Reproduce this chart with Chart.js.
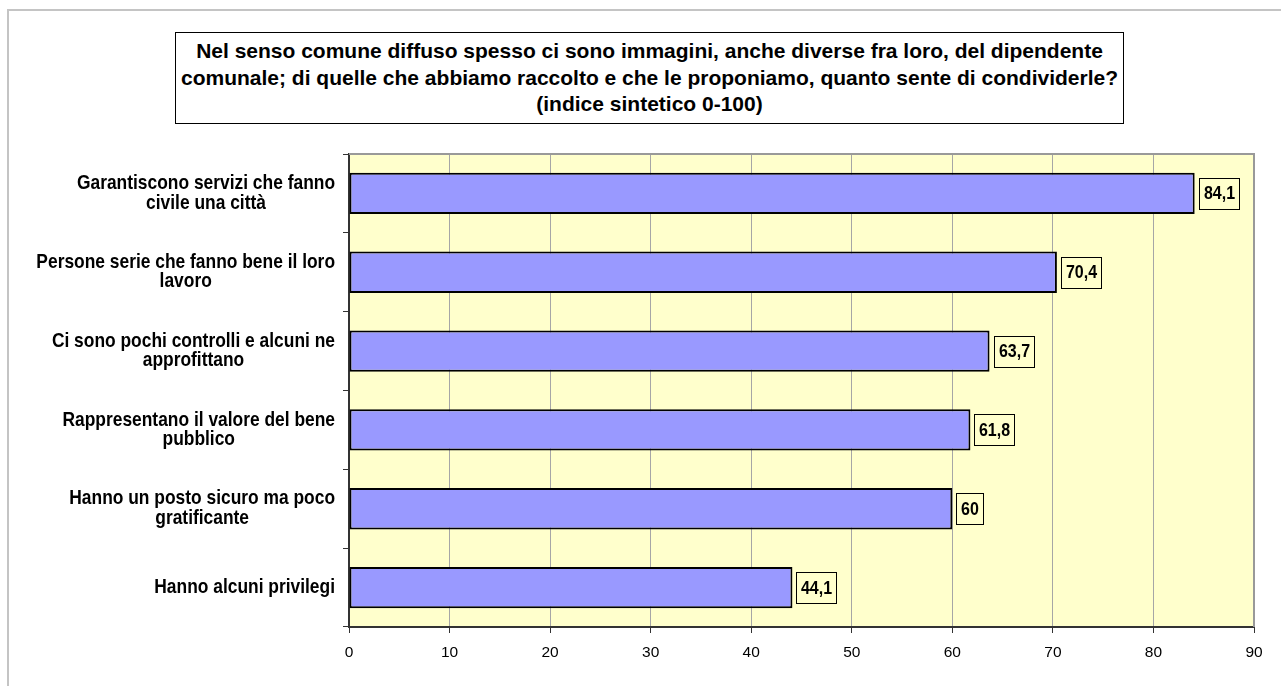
<!DOCTYPE html>
<html>
<head>
<meta charset="utf-8">
<script src="https://cdn.jsdelivr.net/npm/chart.js@4.4.1/dist/chart.umd.min.js"></script>
<style>
  body { margin: 0; background: #fff; }
  #frame { position: absolute; left: 7px; top: 9px; width: 1300px; height: 700px; border: 2px solid #c4c4c4; }
  #title {
    position: absolute; left: 175px; top: 32px; width: 947px; height: 85px;
    border: 1px solid #000; background: #fff;
    font: bold 21px "Liberation Sans", Arial, sans-serif; line-height: 26.5px;
    text-align: center; padding-top: 5px; color: #000; white-space: nowrap;
  }
  #wrap { position: absolute; left: 0; top: 0; }
</style>
</head>
<body>
<div id="frame"></div>
<div id="wrap"><canvas id="barChart" width="1281" height="686"></canvas></div>
<div id="title">Nel senso comune diffuso spesso ci sono immagini, anche diverse fra loro, del dipendente<br>comunale; di quelle che abbiamo raccolto e che le proponiamo, quanto sente di condividerle?<br>(indice sintetico 0-100)</div>
<script>
const categories = [
  ["Garantiscono servizi che fanno", "civile una città"],
  ["Persone serie che fanno bene il loro", "lavoro"],
  ["Ci sono pochi controlli e alcuni ne", "approfittano"],
  ["Rappresentano il valore del bene", "pubblico"],
  ["Hanno un posto sicuro ma poco", "gratificante"],
  ["Hanno alcuni privilegi"]
];
const values = [84.1, 70.4, 63.7, 61.8, 60, 44.1];
const xMin = 0, xMax = 90, xStep = 10;

const fmt = v => String(v).replace(".", ",");

// yellow plot area + grey top/right border
const plotFrame = {
  id: "plotFrame",
  beforeDraw(chart) {
    const { ctx, chartArea: a } = chart;
    ctx.save();
    ctx.fillStyle = "#FFFFCC";
    ctx.fillRect(a.left, a.top, a.right - a.left, a.bottom - a.top);
    ctx.restore();
  },
  afterDatasetsDraw(chart) {
    const { ctx, chartArea: a } = chart;
    ctx.save();
    ctx.strokeStyle = "#999";
    ctx.lineWidth = 2;
    ctx.beginPath();
    ctx.moveTo(a.left, a.top);
    ctx.lineTo(a.right, a.top);
    ctx.lineTo(a.right, a.bottom);
    ctx.stroke();
    ctx.restore();
  }
};

// text a little taller than wide, like the original
function tallText(ctx, t, x, y, sy) {
  ctx.save();
  ctx.translate(x, y);
  ctx.scale(1, sy);
  ctx.fillText(t, 0, 0);
  ctx.restore();
}

// category labels: block right aligned, lines centred in the block
const catLabels = {
  id: "catLabels",
  afterDraw(chart) {
    const { ctx } = chart;
    const y = chart.scales.y;
    const right = y.right - 14;
    const lh = 19.5;
    ctx.save();
    ctx.font = 'bold 17.4px "Liberation Sans", Arial, sans-serif';
    ctx.fillStyle = "#000";
    ctx.textAlign = "center";
    ctx.textBaseline = "middle";
    categories.forEach((lines, i) => {
      const cy = y.getPixelForValue(i);
      const w = Math.max(...lines.map(l => ctx.measureText(l).width));
      const cx = right - w / 2;
      lines.forEach((l, j) => {
        tallText(ctx, l, cx, cy + (j - (lines.length - 1) / 2) * lh, 1.12);
      });
    });
    ctx.restore();
  }
};

// boxed value labels
const valueBoxes = {
  id: "valueBoxes",
  afterDatasetsDraw(chart) {
    const { ctx } = chart;
    const meta = chart.getDatasetMeta(0);
    ctx.save();
    ctx.font = 'bold 16px "Liberation Sans", Arial, sans-serif';
    ctx.textAlign = "center";
    ctx.textBaseline = "middle";
    meta.data.forEach((bar, i) => {
      const t = fmt(values[i]);
      const w = Math.round(ctx.measureText(t).width + 9);
      const h = 31;
      const x0 = Math.round(bar.x + 4) + 0.5;
      const y0 = Math.round(bar.y - h / 2) + 0.5;
      ctx.fillStyle = "#FFFFCC";
      ctx.fillRect(x0, y0, w, h);
      ctx.strokeStyle = "#000";
      ctx.lineWidth = 1;
      ctx.strokeRect(x0, y0, w, h);
      ctx.fillStyle = "#000";
      tallText(ctx, t, x0 + w / 2, bar.y + 1, 1.15);
    });
    ctx.restore();
  }
};

const barChart = document.querySelector("#barChart");
const graph = new Chart(barChart, {
  type: "bar",
  data: {
    labels: categories,
    datasets: [
      {
        data: values,
        backgroundColor: "#9999FF",
        borderColor: "#000",
        borderWidth: 2,
        borderSkipped: false,
        barPercentage: 0.525,
        categoryPercentage: 1
      }
    ]
  },
  options: {
    indexAxis: "y",
    responsive: false,
    animation: false,
    devicePixelRatio: 1,
    layout: { padding: { top: 154, right: 27, left: 0, bottom: 0 } },
    plugins: {
      legend: { display: false },
      tooltip: { enabled: false }
    },
    scales: {
      x: {
        min: xMin,
        max: xMax,
        ticks: {
          stepSize: xStep,
          color: "#000",
          font: { family: "Liberation Sans", size: 15.5 },
          padding: 10
        },
        grid: { color: "#a6a6a6", tickColor: "#333", tickLength: 6 },
        border: { color: "#333", width: 2 },
        afterFit: s => { s.height = 59; }
      },
      y: {
        ticks: { display: false },
        grid: { offset: true, drawOnChartArea: false, tickLength: 6, color: "#333" },
        border: { color: "#333", width: 2 },
        afterFit: s => { s.width = 349; }
      }
    }
  },
  plugins: [plotFrame, catLabels, valueBoxes]
});
</script>
</body>
</html>
